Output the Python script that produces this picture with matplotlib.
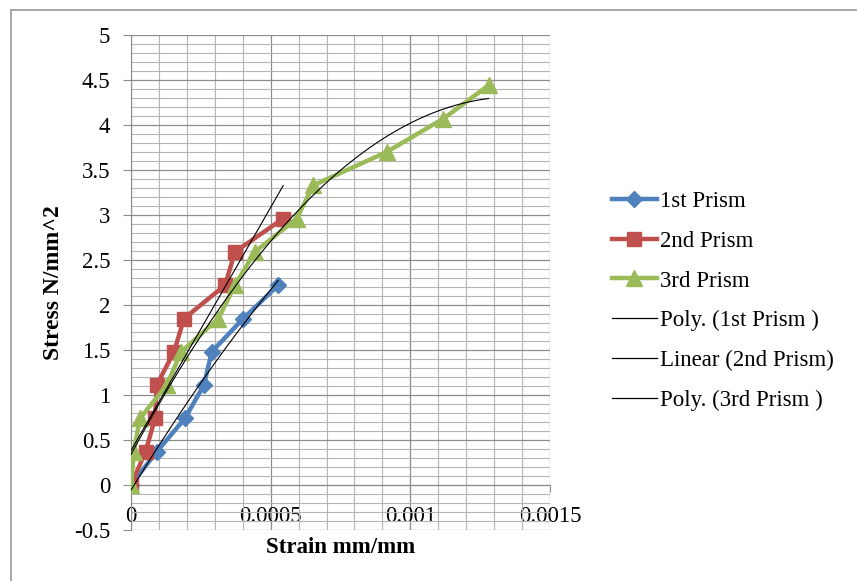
import matplotlib
matplotlib.use("Agg")
import matplotlib.pyplot as plt
from matplotlib.lines import Line2D
from matplotlib.ticker import MultipleLocator
import numpy as np

# stress levels (N/mm^2) and strains
stress_1 = [0, 0.37, 0.74, 1.11, 1.48, 1.85, 2.22]
strain_1 = [0, 0.000092, 0.000193, 0.000261, 0.000289, 0.000402, 0.000527]

stress_2 = [0, 0.37, 0.74, 1.11, 1.48, 1.85, 2.22, 2.59, 2.96]
strain_2 = [0, 0.000052, 0.000086, 0.000092, 0.000154, 0.000190,
            0.000337, 0.000372, 0.000545]

stress_3 = [0, 0.37, 0.74, 1.11, 1.48, 1.85, 2.22, 2.59, 2.96, 3.33,
            3.70, 4.07, 4.44]
strain_3 = [0, 0.000010, 0.000032, 0.000128, 0.000180, 0.000313,
            0.000372, 0.000444, 0.000593, 0.000653, 0.000915, 0.001118,
            0.001280]

series_names = ["1st Prism", "2nd Prism", "3rd Prism"]
trend_names = ["Poly. (1st Prism )", "Linear (2nd Prism)", "Poly. (3rd Prism )"]
colors = ["#4F81BD", "#C0504D", "#9BBB59"]
markers = ["D", "s", "^"]

plt.rcParams['font.family'] = ["Liberation Serif", "DejaVu Serif"]

fig = plt.figure(figsize=(8.57, 5.81), dpi=100)
ax = fig.add_axes([131 / 857, 1 - 530 / 581, 419 / 857, 495 / 581])

# chart frame (only top and left edges are inside the picture)
fig.add_artist(Line2D([11 / 857, 11 / 857], [0, 1 - 10 / 581],
                      transform=fig.transFigure, color="#9a9a9a", lw=1.2))
fig.add_artist(Line2D([11 / 857, 1], [1 - 10 / 581, 1 - 10 / 581],
                      transform=fig.transFigure, color="#9a9a9a", lw=1.2))

data = [(strain_1, stress_1), (strain_2, stress_2), (strain_3, stress_3)]
sizes = [8, 10, 11]
for (sx, sy), name, c, m, ms in zip(data, series_names, colors, markers, sizes):
    ax.plot(sx, sy, color=c, marker=m, markersize=ms, lw=3.2, label=name,
            zorder=3)

# trendlines like Excel: poly order 2, linear, poly order 2
orders = [2, 1, 2]
for (sx, sy), deg in zip(data, orders):
    coef = np.polyfit(sx, sy, deg)
    xs = np.linspace(0, max(sx), 200)
    ax.plot(xs, np.polyval(coef, xs), color="black", lw=0.8, zorder=4)

ax.set_xlim(0, 0.0015)
ax.set_ylim(-0.5, 5)
ax.xaxis.set_minor_locator(MultipleLocator(0.0001))
ax.yaxis.set_minor_locator(MultipleLocator(0.1))
ax.grid(which="major", color="#8c8c8c", lw=0.9)
ax.grid(which="minor", color="#b4b4b4", lw=0.8)
ax.set_axisbelow(True)

ax.set_xticks([0, 0.0005, 0.001, 0.0015])
ax.set_xticklabels(["0", "0.0005", "0.001", "0.0015"])
ax.set_yticks(np.arange(-0.5, 5.01, 0.5))
ax.set_yticklabels(["-0.5", "0", "0.5", "1", "1.5", "2", "2.5", "3", "3.5",
                    "4", "4.5", "5"])

for s in ["top", "right"]:
    ax.spines[s].set_visible(False)
ax.spines["bottom"].set_position(("data", 0))
ax.spines["bottom"].set_color("#8c8c8c")
ax.spines["left"].set_color("#8c8c8c")
ax.tick_params(axis="both", which="minor", length=0)
ax.tick_params(axis="y", which="major", length=6, color="#8c8c8c",
               labelsize=16.5, pad=9)
ax.tick_params(axis="x", which="major", length=5, color="#8c8c8c",
               labelsize=16.5, pad=10)

ax.set_xlabel("Strain mm/mm", fontsize=16.5, fontweight="bold")
ax.xaxis.set_label_coords(0.5, -0.014)
ax.set_ylabel("Stress N/mm^2", fontsize=17, fontweight="bold")
ax.yaxis.set_label_coords(-0.16, 0.5)

handles = [Line2D([], [], color=c, marker=m, markersize=ms, lw=3.2)
           for c, m, ms in zip(colors, markers, sizes)]
handles += [Line2D([], [], color="black", lw=0.9) for _ in trend_names]
fig.legend(handles, series_names + trend_names, loc="center left",
           bbox_to_anchor=(591 / 857, 1 - 301 / 581), frameon=False,
           fontsize=16.5, handlelength=1.97, handletextpad=0.13,
           labelspacing=0.81)

fig.savefig("out.png", dpi=100)
